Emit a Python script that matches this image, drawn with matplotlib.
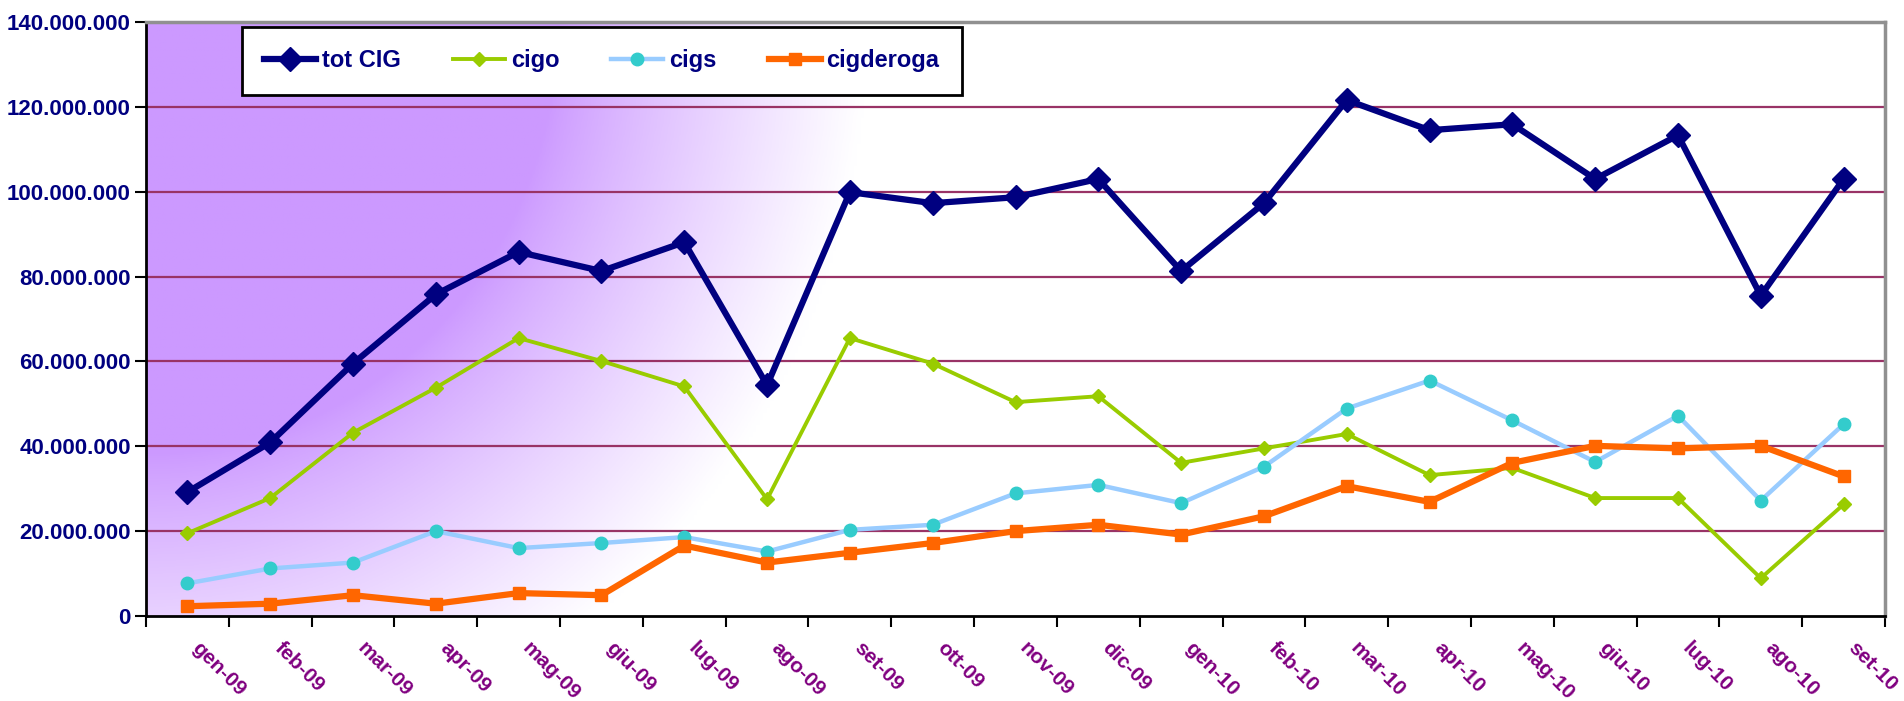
import numpy as np
import matplotlib.pyplot as plt
from matplotlib.ticker import FuncFormatter, FixedLocator

mesi = ['gen-09', 'feb-09', 'mar-09', 'apr-09', 'mag-09', 'giu-09', 'lug-09',
        'ago-09', 'set-09', 'ott-09', 'nov-09', 'dic-09', 'gen-10', 'feb-10',
        'mar-10', 'apr-10', 'mag-10', 'giu-10', 'lug-10', 'ago-10', 'set-10']

tot_cig = [29.2, 40.9, 59.5, 75.8, 85.8, 81.3, 88.1, 54.4, 99.9, 97.3, 98.7,
           103.0, 81.3, 97.3, 121.6, 114.5, 115.9, 103.0, 113.3, 75.5, 103.0]
cigo = [19.5, 27.8, 43.2, 53.8, 65.5, 60.1, 54.1, 27.5, 65.5, 59.5, 50.4,
        51.8, 36.1, 39.5, 42.9, 33.2, 34.9, 27.8, 27.8, 8.9, 26.3]
cigs = [7.7, 11.2, 12.6, 20.0, 16.0, 17.2, 18.6, 15.2, 20.3, 21.5, 28.9,
        30.9, 26.6, 35.2, 48.9, 55.5, 46.1, 36.3, 47.2, 27.2, 45.2]
cigderoga = [2.3, 2.9, 4.9, 2.9, 5.4, 4.9, 16.6, 12.6, 14.9, 17.2, 20.0,
             21.5, 19.2, 23.5, 30.6, 26.9, 36.1, 40.1, 39.5, 40.1, 32.9]

M = 1e6
x = np.arange(len(mesi))

plt.rcParams['font.family'] = ['Liberation Sans', 'DejaVu Sans']
fig = plt.figure(figsize=(19.04, 7.01), dpi=100)
ax = fig.add_axes([146 / 1904, 1 - 616 / 701, (1885 - 146) / 1904, (616 - 22) / 701])

# purple corner gradient (background)
W, H = 1739, 594
gx, gy = np.meshgrid(np.linspace(0, W, 500), np.linspace(0, H, 250))
d = np.sqrt(gx ** 2 + (gy * 0.95) ** 2)
t = np.clip((d - 410) / (720 - 410), 0, 1) ** 0.85
purple = np.array([204, 153, 255]) / 255
img = purple[None, None, :] * (1 - t[..., None]) + np.ones(3) * t[..., None]
ax.imshow(img, extent=[0, 1, 0, 1], transform=ax.transAxes, aspect='auto',
          origin='upper', zorder=0)

ax.set_xlim(-0.5, len(mesi) - 0.5)
ax.set_ylim(0, 140 * M)

for v in range(20, 140, 20):
    ax.axhline(v * M, color='#993366', lw=1.6, zorder=1)

ax.plot(x, np.array(tot_cig) * M, color='#000080', lw=4.5, marker='D',
        ms=12, label='tot CIG', zorder=3)
ax.plot(x, np.array(cigo) * M, color='#99CC00', lw=2.8, marker='D',
        ms=7, label='cigo', zorder=4)
ax.plot(x, np.array(cigs) * M, color='#99CCFF', lw=3.2, marker='o', ms=9,
        mfc='#33CCCC', mec='#33CCCC', label='cigs', zorder=5)
ax.plot(x, np.array(cigderoga) * M, color='#FF6600', lw=4.5, marker='s',
        ms=9, label='cigderoga', zorder=6)

# y axis
ax.set_yticks(np.arange(0, 141, 20) * M)
ax.yaxis.set_major_formatter(FuncFormatter(
    lambda v, p: f'{int(round(v)):,}'.replace(',', '.')))
ax.tick_params(axis='y', direction='out', length=8, width=1.5, pad=3,
               labelsize=16, labelcolor='#000080')
for lab in ax.get_yticklabels():
    lab.set_fontweight('bold')

# x axis: ticks on category boundaries, labels at centres
ax.xaxis.set_major_locator(FixedLocator(np.arange(-0.5, len(mesi), 1)))
ax.xaxis.set_major_formatter(FuncFormatter(lambda v, p: ''))
ax.tick_params(axis='x', which='major', direction='out', length=8, width=1.5)
for i, m in enumerate(mesi):
    ax.annotate(m, xy=(i, 0), xycoords=('data', 'axes fraction'),
                xytext=(10, -16), textcoords='offset points',
                rotation=-45, rotation_mode='anchor', ha='left', va='top',
                fontsize=15, fontweight='bold', color='#800080',
                annotation_clip=False)

for s in ['left', 'bottom']:
    ax.spines[s].set_linewidth(2)
    ax.spines[s].set_color('black')
for s in ['top', 'right']:
    ax.spines[s].set_linewidth(2.5)
    ax.spines[s].set_color('#909090')

leg = ax.legend(loc='upper left', bbox_to_anchor=(96 / W, 1 - 5 / H), ncol=4,
                frameon=True, fancybox=False, edgecolor='black',
                framealpha=1, handlelength=2.2, handletextpad=0.25,
                columnspacing=2.2, borderpad=0.95, borderaxespad=0,
                prop={'weight': 'bold', 'size': 17})
leg.get_frame().set_linewidth(2)
for txt in leg.get_texts():
    txt.set_color('#000080')

fig.savefig('out.png', dpi=100)
